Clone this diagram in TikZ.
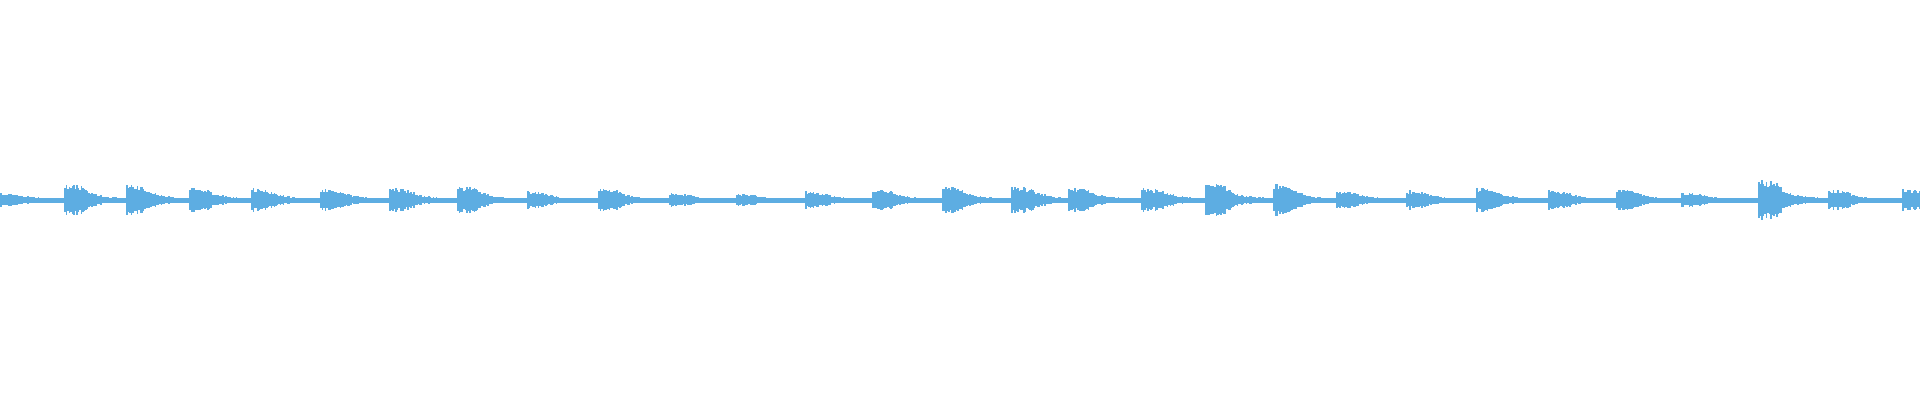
\documentclass[tikz,border=0pt]{standalone}
\definecolor{wave}{HTML}{5DADE2}
\begin{document}
\begin{tikzpicture}[x=1pt,y=1pt,bar/.style={fill=wave,draw=none}]
\useasboundingbox (0,0) rectangle (1920,400);
\pgfmathsetseed{7}
\fill[wave] (0,197.5) rectangle (1920,202.5);
\foreach \xo/\A/\tau in {0/7/80,64/17/30,126/17/30,189/13/40,251/12/38,320/12/45,389/13/40,457/15/32,527/9/40,598/13/32,669/7/40,736/7/40,805/9/40,872/12/32,942/15/30,1011/15/40,1068/14/36,1141/13/50,1205/20/28,1273/17/30,1336/10/40,1406/10/36,1476/13/30,1548/10/36,1616/12/32,1681/8/50,1758/22/26,1828/11/32,1902/11/32}{
  \foreach \d in {0,1.5,...,70}{
    \pgfmathsetmacro{\e}{\d<18 ? 1 : 0.3+0.7*exp(-(\d-18)/(0.4*\tau))}
    \pgfmathsetmacro{\h}{max(2.5,\A*\e*(1-\d/95)*(0.65+0.35*rnd))}
    \fill[wave] (\xo+\d,200-\h) rectangle (\xo+\d+1.5,200+\h);
  }
}
\end{tikzpicture}
\end{document}
